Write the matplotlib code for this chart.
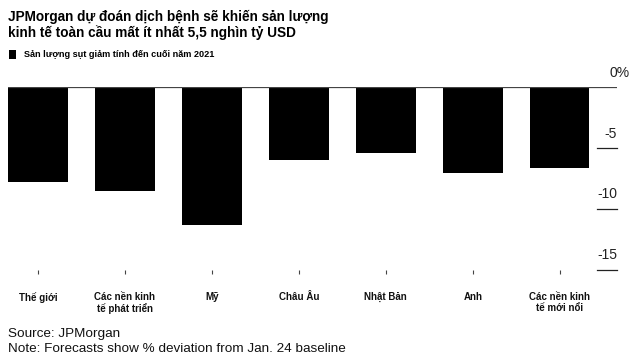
import matplotlib
matplotlib.use("Agg")
import matplotlib.pyplot as plt
from matplotlib import font_manager

categories = ["Thế giới", "Các nền kinh\ntế phát triển", "Mỹ", "Châu Âu",
              "Nhật Bản", "Anh", "Các nền kinh\ntế mới nổi"]
values = [-7.8, -8.5, -11.3, -6.0, -5.4, -7.0, -6.6]
yticks = [0, -5, -10, -15]
ytick_labels = ["0", "-5", "-10", "-15"]
series_label = "Sản lượng sụt giảm tính đến cuối năm 2021"
title_lines = ["JPMorgan dự đoán dịch bệnh sẽ khiến sản lượng",
               "kinh tế toàn cầu mất ít nhất 5,5 nghìn tỷ USD"]
source_lines = ["Source: JPMorgan",
                "Note: Forecasts show % deviation from Jan. 24 baseline"]

plt.rcParams['font.family'] = ['Liberation Sans', 'DejaVu Sans']

W, H = 640, 363
fig = plt.figure(figsize=(W / 100, H / 100), dpi=100)

def fx(px):
    return px / W

def fy(py):
    return 1 - py / H

left, right, top, bottom = 8.3, 617.0, 87.3, 270.0
ax = fig.add_axes([fx(left), fy(bottom), fx(right - left), (bottom - top) / H])

x = list(range(len(categories)))
ax.bar(x, values, width=0.685, color="black", label=series_label, zorder=2)
ax.set_xlim(-0.342, 6.659)
ax.set_ylim(-15, 0)

for s in ax.spines.values():
    s.set_visible(False)
ax.set_yticks([])
ax.set_xticks(x)
ax.set_xticklabels(categories, fontsize=7, fontweight="bold", color="#111",
                   linespacing=1.05)
ax.tick_params(axis="x", length=3.0, width=0.8, color="#444", pad=13,
               direction="out")

# zero line and right-side y ticks
ax.axhline(0, color="#444", lw=0.9, zorder=3)
tick_start = (597 - left) / (right - left)
for v, lab in zip(yticks, ytick_labels):
    if v != 0:
        ax.axhline(v, xmin=tick_start, xmax=1, color="#222", lw=0.9,
                   clip_on=False)
        ax.annotate(lab, xy=(1, v), xycoords=("axes fraction", "data"),
                    xytext=(0, 5.5), textcoords="offset points",
                    ha="right", va="bottom", fontsize=10, color="#222")
    else:
        ax.annotate(lab + "%", xy=(1, v), xycoords=("axes fraction", "data"),
                    xytext=(-5.6, 5.5), textcoords="offset points",
                    ha="left", va="bottom", fontsize=10, color="#222")

# title
fig.text(fx(8), fy(20.7), title_lines[0], fontsize=9.8, fontweight="bold",
         va="baseline", ha="left", color="black")
fig.text(fx(8), fy(36.7), title_lines[1], fontsize=9.8, fontweight="bold",
         va="baseline", ha="left", color="black")

# legend
fig.legend(loc="center left", bbox_to_anchor=(fx(9), fy(54.5)),
           frameon=False, fontsize=6.6, handlelength=0.75, handleheight=1.1,
           handletextpad=0.9, borderpad=0, borderaxespad=0,
           prop={"weight": "bold", "size": 6.6})

# source / note
fig.text(fx(8), fy(337.5), source_lines[0], fontsize=9.7, va="baseline",
         ha="left", color="#111")
fig.text(fx(8), fy(351.5), source_lines[1], fontsize=9.7, va="baseline",
         ha="left", color="#111")

fig.savefig("out.png", dpi=100, facecolor="white")
